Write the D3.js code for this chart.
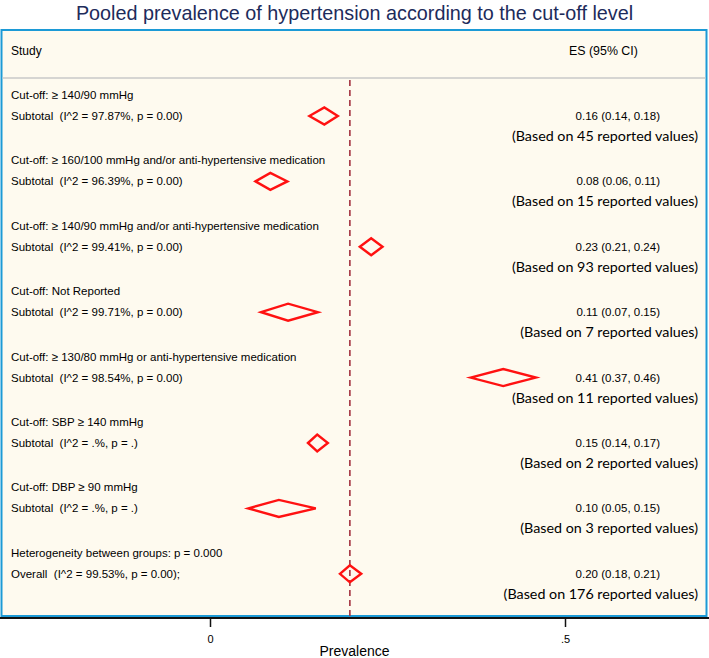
<!DOCTYPE html>
<html><head><meta charset="utf-8">
<script src="https://cdn.jsdelivr.net/npm/d3@7"></script>
<style>
html,body{margin:0;padding:0;background:#fff;}
svg{display:block;}
svg text{white-space:pre;}
</style></head>
<body>
<script>
// ---- data ----
const groups = [
  "Cut-off: \u2265 140/90 mmHg",
  "Cut-off: \u2265 160/100 mmHg and/or anti-hypertensive medication",
  "Cut-off: \u2265 140/90 mmHg and/or anti-hypertensive medication",
  "Cut-off: Not Reported",
  "Cut-off: \u2265 130/80 mmHg or anti-hypertensive medication",
  "Cut-off: SBP \u2265 140 mmHg",
  "Cut-off: DBP \u2265 90 mmHg",
  "Heterogeneity between groups: p = 0.000"
];
const subtotalLabels = [
  "Subtotal  (I^2 = 97.87%, p = 0.00)",
  "Subtotal  (I^2 = 96.39%, p = 0.00)",
  "Subtotal  (I^2 = 99.41%, p = 0.00)",
  "Subtotal  (I^2 = 99.71%, p = 0.00)",
  "Subtotal  (I^2 = 98.54%, p = 0.00)",
  "Subtotal  (I^2 = .%, p = .)",
  "Subtotal  (I^2 = .%, p = .)",
  "Overall  (I^2 = 99.53%, p = 0.00);"
];
const es    = [0.161, 0.085, 0.227, 0.110, 0.413, 0.151, 0.097, 0.197];
const lower = [0.140, 0.064, 0.211, 0.072, 0.367, 0.138, 0.054, 0.183];
const upper = [0.180, 0.109, 0.243, 0.152, 0.459, 0.166, 0.149, 0.213];
const esLabels = [
  "0.16 (0.14, 0.18)", "0.08 (0.06, 0.11)", "0.23 (0.21, 0.24)", "0.11 (0.07, 0.15)",
  "0.41 (0.37, 0.46)", "0.15 (0.14, 0.17)", "0.10 (0.05, 0.15)", "0.20 (0.18, 0.21)"
];
const nValues = [45, 15, 93, 7, 11, 2, 3, 176];
const tickValues = [0, 0.5];
const tickLabels = ["0", ".5"];
const overallES = es[es.length - 1];

// ---- drawing ----
const W = 709, H = 658;
const svg = d3.select("body").append("svg").attr("width", W).attr("height", H);

const x = d3.scaleLinear().domain([0, 0.5]).range([210, 565]);
const gy = d3.scaleLinear().domain([0, groups.length - 1]).range([99, 556.8]);

const boxTop = 30, boxBottom = 616, boxLeft = 1.5, boxRight = 706.5, headerY = 78;
const axisY = 618;
const font = "Liberation Sans, Arial, sans-serif";

svg.append("text").attr("x", 354.5).attr("y", 20)
  .attr("text-anchor", "middle")
  .attr("font-family", font)
  .attr("font-size", 19.8).attr("fill", "#1d2b5b")
  .text("Pooled prevalence of hypertension according to the cut-off level");

svg.append("rect").attr("x", boxLeft).attr("y", boxTop)
  .attr("width", boxRight - boxLeft).attr("height", boxBottom - boxTop)
  .attr("fill", "#fefaef").attr("stroke", "#1c9ad6").attr("stroke-width", 2);

svg.append("line").attr("x1", boxLeft + 1).attr("x2", boxRight - 1)
  .attr("y1", headerY).attr("y2", headerY)
  .attr("stroke", "#c8c8c8").attr("stroke-width", 1.5);

svg.append("text").attr("x", 11).attr("y", 55).attr("font-family", font)
  .attr("font-size", 12).attr("fill", "#000").text("Study");
svg.append("text").attr("x", 569).attr("y", 55).attr("font-family", font)
  .attr("font-size", 12.4).attr("fill", "#000").text("ES (95% CI)");

// dashed overall line
svg.append("line").attr("x1", x(overallES)).attr("x2", x(overallES))
  .attr("y1", headerY + 2).attr("y2", axisY)
  .attr("stroke", "#a3303f").attr("stroke-width", 1.6)
  .attr("stroke-dasharray", "6,4");

const idx = d3.range(groups.length);
const g = svg.append("g");

g.selectAll("text.grp").data(idx).join("text")
  .attr("x", 11).attr("y", i => gy(i)).attr("font-family", font)
  .attr("font-size", 11.5).attr("fill", "#000").text(i => groups[i]);

g.selectAll("text.sub").data(idx).join("text")
  .attr("x", 11).attr("y", i => gy(i) + 21).attr("font-family", font)
  .attr("font-size", 11.5).attr("fill", "#000").text(i => subtotalLabels[i]);

g.selectAll("text.es").data(idx).join("text")
  .attr("x", 660).attr("y", i => gy(i) + 21).attr("text-anchor", "end")
  .attr("font-family", font).attr("font-size", 11.5).attr("fill", "#000")
  .text(i => esLabels[i]);

g.selectAll("text.n").data(idx).join("text")
  .attr("x", 698).attr("y", i => gy(i) + 42).attr("text-anchor", "end")
  .attr("font-family", "Lato, Carlito, sans-serif").attr("font-size", 14.3).attr("fill", "#000")
  .text(i => `(Based on ${nValues[i]} reported values)`);

const hh = 8.5;
g.selectAll("path.dia").data(idx).join("path")
  .attr("d", i => {
    const cy = gy(i) + 17;
    return `M${x(lower[i])},${cy} L${x(es[i])},${cy - hh} L${x(upper[i])},${cy} L${x(es[i])},${cy + hh} Z`;
  })
  .attr("fill", "none").attr("stroke", "#ff1111").attr("stroke-width", 2.4)
  .attr("stroke-linejoin", "miter");

// axis
svg.append("line").attr("x1", 0).attr("x2", W).attr("y1", axisY).attr("y2", axisY)
  .attr("stroke", "#111").attr("stroke-width", 2);
const axis = d3.axisBottom(x).tickValues(tickValues)
  .tickFormat((d, i) => tickLabels[i]).tickSize(9).tickPadding(8);
const ax = svg.append("g").attr("transform", `translate(0,${axisY})`).call(axis);
ax.select(".domain").remove();
ax.selectAll(".tick line").attr("stroke", "#111").attr("stroke-width", 1.5);
ax.selectAll(".tick text").attr("font-family", font).attr("font-size", 11).attr("fill", "#000");

svg.append("text").attr("x", 354.5).attr("y", 655.5).attr("text-anchor", "middle")
  .attr("font-family", font).attr("font-size", 14).attr("fill", "#000").text("Prevalence");
</script>
</body></html>
